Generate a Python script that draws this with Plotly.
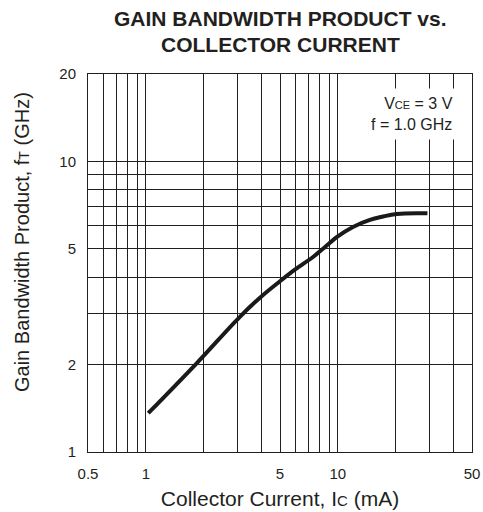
import plotly.graph_objects as go

# Data
ic_ma = [1.03, 1.84, 3.09, 4.0, 5.0, 6.0, 7.46, 8.5, 10.0, 12.0, 14.7, 17.0, 20.3, 29.3]
ft_ghz = [1.36, 2.02, 2.92, 3.43, 3.87, 4.25, 4.70, 5.05, 5.52, 5.95, 6.29, 6.45, 6.60, 6.63]

x_grid = [0.5, 0.6, 0.7, 0.8, 0.9, 1, 2, 3, 4, 5, 6, 7, 8, 9, 10, 20, 30, 40, 50]
x_labels = ["0.5", "", "", "", "", "1", "", "", "", "5", "", "", "", "", "10", "", "", "", "50"]
y_grid = [1, 2, 3, 4, 5, 6, 7, 8, 9, 10, 20]
y_labels = ["1", "2", "", "", "5", "", "", "", "", "10", "20"]
title_lines = ["GAIN BANDWIDTH PRODUCT vs.", "COLLECTOR CURRENT"]
x_title = "Collector Current, I<span style='font-size:15px'>C</span> (mA)"
y_title = "Gain Bandwidth Product, f<span style='font-size:14px'>T</span> (GHz)"

INK = "#231f20"
FONT = "Liberation Sans, Arial, Helvetica, sans-serif"

fig = go.Figure()
fig.add_trace(go.Scatter(
    x=ic_ma, y=ft_ghz, mode="lines",
    line=dict(color="#1a1a1a", width=4, shape="spline", smoothing=1.0),
    showlegend=False, hoverinfo="skip",
))

axis_common = dict(
    showgrid=True, gridcolor=INK, gridwidth=1,
    showline=True, linecolor=INK, linewidth=1, mirror=True,
    ticks="", tickfont=dict(size=15, color=INK, family=FONT),
    zeroline=False, tickmode="array", automargin=False,
)

fig.update_xaxes(
    type="log", range=[-0.30103, 1.69897],
    tickvals=x_grid, ticktext=x_labels, ticklabelstandoff=8,
    title=dict(text=x_title, font=dict(size=21, color=INK, family=FONT), standoff=10),
    **axis_common,
)
fig.update_yaxes(
    type="log", range=[0, 1.30103],
    tickvals=y_grid, ticktext=y_labels, ticklabelstandoff=8,
    **axis_common,
)

# y-axis title (placed slightly above the plot centre, as in the reference)
fig.add_annotation(
    xref="paper", yref="paper", x=(22 - 88) / 384, y=(452 - 242) / 378,
    xanchor="center", yanchor="middle", showarrow=False, textangle=-90,
    text=y_title, font=dict(size=20, color=INK, family=FONT),
)

fig.add_annotation(
    xref="paper", yref="paper", x=(460 - 88) / 384, y=(452 - 88) / 378,
    xanchor="right", yanchor="top",
    text="V<span style='font-size:11px'>CE</span> = 3 V<br>f = 1.0 GHz",
    align="right", showarrow=False, bgcolor="white", borderpad=6,
    font=dict(size=16, color=INK, family=FONT),
)

for i, line in enumerate(title_lines):
    fig.add_annotation(
        xref="paper", yref="paper", x=0.5, y=1 + (74 - 19 - 25 * i) / 378,
        xanchor="center", yanchor="middle", showarrow=False,
        text="<b>" + line + "</b>",
        font=dict(size=21, color=INK, family=FONT),
    )

fig.update_layout(
    width=483, height=512,
    margin=dict(l=88, r=11, t=74, b=60),
    paper_bgcolor="white", plot_bgcolor="white",
)

fig.write_html(
    "out.html",
    config={"displayModeBar": False},
    post_script="document.body.style.margin='0';document.body.style.padding='0';",
)
